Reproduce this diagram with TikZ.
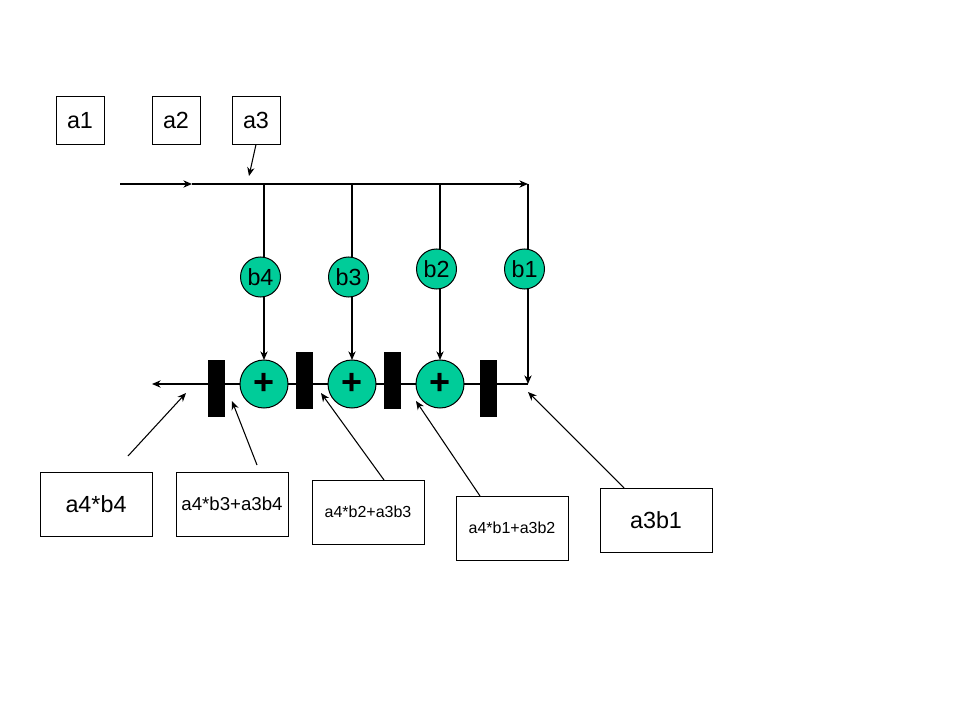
\documentclass[tikz,border=0pt]{standalone}
\usepackage{fontspec}
\setmainfont{Liberation Sans}
\usetikzlibrary{arrows.meta}

\definecolor{tealgreen}{HTML}{00CC99}

\tikzset{
  line/.style={line width=.8pt, black},
  arr/.style={line, -{Stealth[length=6.5pt,width=5.5pt]}},
  smallbox/.style={draw, line width=.75pt, fill=white, inner sep=0pt, outer sep=0pt, minimum width=36pt, minimum height=36pt, font=\fontsize{17.5}{20}\selectfont},
  widebox/.style={draw, line width=.75pt, fill=white, inner sep=0pt, outer sep=0pt, minimum width=84pt, minimum height=48pt},
  coef/.style={circle, draw, line width=.75pt, fill=tealgreen, inner sep=0pt, outer sep=0pt, minimum size=30pt, font=\fontsize{17.5}{20}\selectfont},
  adder/.style={circle, draw, line width=.75pt, fill=tealgreen, inner sep=0pt, outer sep=0pt, minimum size=36pt, font=\fontsize{27}{30}\selectfont\bfseries},
  latch/.style={fill=black, inner sep=0pt, outer sep=0pt, minimum width=12.75pt, minimum height=42.75pt}
}

\begin{document}
\begin{tikzpicture}[x=.75pt, y=-.75pt]

\useasboundingbox (0,0) rectangle (960,720);

% coordinates on the two long lines
\coordinate (in) at (120,184);
\coordinate (mid) at (192,184);
\coordinate (t4) at (264,184);
\coordinate (t3) at (352,184);
\coordinate (t2) at (440,184);
\coordinate (t1) at (528,184);
\coordinate (e1) at (528,384);
\coordinate (out) at (152,384);

\draw[arr] (e1) -- (out);
\draw[arr] (in) -- (mid);
\draw[arr] (mid) -- (t1);

% a row
\node[smallbox] (a1) at (80,120.5) {a1};
\node[smallbox] (a2) at (176,120.5) {a2};
\node[smallbox] (a3) at (256,120.5) {a3};

% adders and latches
\node[adder] (p4) at (264,384) {+};
\node[adder] (p3) at (352,384) {+};
\node[adder] (p2) at (440,384) {+};

\node[latch] (r4) at (216.5,388.5) {};
\node[latch] (r3) at (304.5,380.5) {};
\node[latch] (r2) at (392.5,380.5) {};
\node[latch] (r1) at (488.5,388.5) {};

% b coefficients
\node[coef] (b4) at (260.5,277) {b4};
\node[coef] (b3) at (348.5,277) {b3};
\node[coef] (b2) at (436.5,269) {b2};
\node[coef] (b1) at (524.5,269) {b1};

\draw[line] (t4) -- (t4 |- b4.north);
\draw[line] (t3) -- (t3 |- b3.north);
\draw[line] (t2) -- (t2 |- b2.north);
\draw[line] (t1) -- (t1 |- b1.north);

\draw[arr] (t4 |- b4.south) -- (p4.north);
\draw[arr] (t3 |- b3.south) -- (p3.north);
\draw[arr] (t2 |- b2.south) -- (p2.north);
\draw[arr] (t1 |- b1.south) -- (e1);

% result boxes
\node[widebox, font=\fontsize{17.5}{20}\selectfont] (s1) at (96,504) {a4*b4};
\node[widebox, font=\fontsize{14}{16}\selectfont] (s2) at (232,504) {a4*b3+a3b4};
\node[widebox, font=\fontsize{12}{14}\selectfont] (s3) at (368,512) {a4*b2+a3b3};
\node[widebox, font=\fontsize{12}{14}\selectfont] (s4) at (512,528) {a4*b1+a3b2};
\node[widebox, font=\fontsize{17.5}{20}\selectfont] (s5) at (656,520) {a3b1};

% arrows with free ends
\coordinate (h0) at (249,176);
\coordinate (f1) at (128,456);
\coordinate (h1) at (186,393);
\coordinate (f2) at (257,465);
\coordinate (h2) at (232,401);
\coordinate (f3) at (384,480);
\coordinate (h3) at (321,393);
\coordinate (f4) at (480,496);
\coordinate (h4) at (416,401);
\coordinate (f5) at (624,488);
\coordinate (h5) at (528,392);

\draw[arr] (a3.south) -- (h0);
\draw[arr] (f1) -- (h1);
\draw[arr] (f2) -- (h2);
\draw[arr] (f3) -- (h3);
\draw[arr] (f4) -- (h4);
\draw[arr] (f5) -- (h5);

\end{tikzpicture}
\end{document}
